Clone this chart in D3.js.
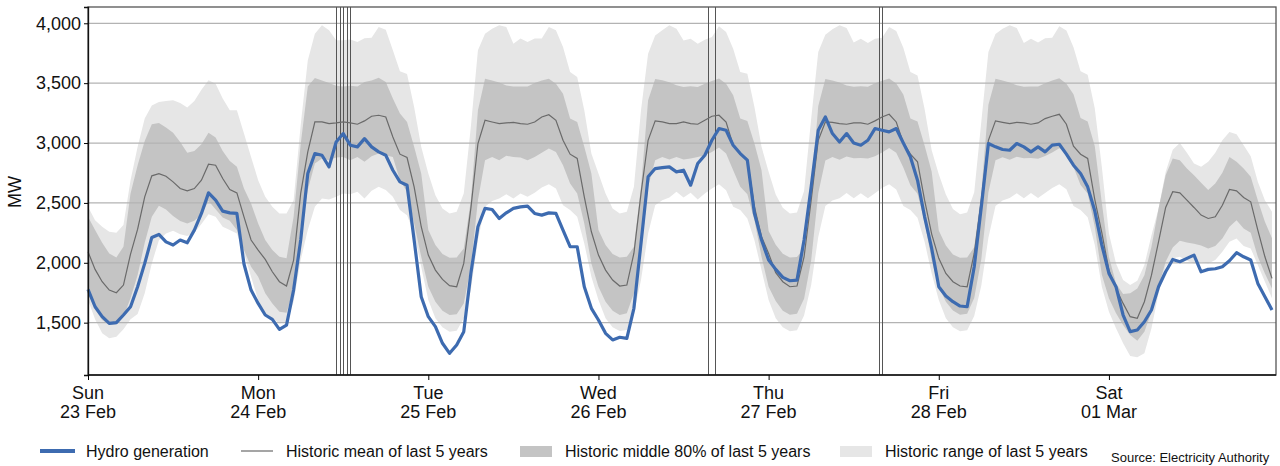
<!DOCTYPE html>
<html>
<head>
<meta charset="utf-8">
<script src="https://cdn.jsdelivr.net/npm/d3@7"></script>
<style>
  body { margin: 0; background: #fff; }
  text { font-family: "Liberation Sans", Arial, Helvetica, sans-serif; fill: #111; }
</style>
</head>
<body>
<svg id="chart" width="1280" height="466"></svg>
<script>
// hourly values, Sun 23 Feb 00:00 to Sat 01 Mar 23:00 (MW), one row per day
var hydro = [
  1778,1633,1550,1494,1500,1564,1633,1800,1995,2212,2237,2175,2148,2190,2167,2273,2412,2584,2523,2431,2417,2412,1990,1772,
  1661,1564,1528,1444,1480,1772,2190,2745,2912,2898,2801,3009,3079,2982,2968,3037,2968,2926,2898,2773,2676,2648,2190,1717,
  1550,1467,1328,1244,1314,1425,1911,2301,2454,2445,2370,2417,2454,2467,2473,2412,2398,2417,2412,2273,2134,2134,1800,1620,
  1522,1411,1356,1378,1369,1620,2162,2718,2787,2795,2801,2759,2773,2648,2829,2898,3023,3121,3107,2982,2912,2857,2412,2190,
  2023,1945,1878,1850,1856,2190,2634,3107,3218,3079,3009,3079,3001,2982,3023,3121,3107,3093,3121,3001,2884,2690,2384,2120,
  1800,1722,1675,1639,1633,1967,2467,2996,2968,2946,2940,2996,2968,2926,2968,2926,2982,2990,2907,2815,2745,2634,2434,2148,
  1911,1800,1564,1425,1439,1508,1606,1800,1925,2028,2009,2037,2064,1925,1945,1950,1967,2017,2084,2050,2023,1828,1717,1606
];
var histMean = [
  2092,1945,1842,1772,1750,1814,2073,2281,2551,2726,2745,2723,2676,2620,2601,2620,2690,2823,2815,2704,2612,2584,2384,2190,
  2106,2028,1925,1842,1806,2023,2579,2926,3176,3176,3162,3168,3176,3168,3157,3185,3224,3232,3218,3051,2907,2879,2634,2301,
  2064,1939,1861,1809,1800,1995,2454,2996,3190,3176,3162,3168,3173,3162,3157,3176,3218,3237,3190,3023,2907,2871,2551,2259,
  2064,1939,1856,1806,1814,2080,2579,3023,3185,3176,3162,3162,3176,3162,3157,3190,3224,3232,3176,2982,2907,2857,2467,2218,
  2078,1917,1842,1800,1806,2050,2520,3023,3176,3173,3162,3157,3168,3168,3157,3185,3218,3240,3176,3001,2907,2843,2523,2240,
  2037,1911,1842,1806,1800,2080,2520,3023,3185,3173,3162,3173,3168,3157,3168,3204,3224,3240,3157,2974,2907,2871,2530,2250,
  1939,1786,1661,1550,1536,1675,1897,2176,2462,2593,2584,2523,2462,2398,2370,2384,2481,2612,2601,2545,2509,2273,2050,1870
];
var histP10 = [
  1745,1611,1522,1481,1486,1550,1703,1898,2167,2384,2476,2445,2390,2348,2328,2351,2404,2517,2448,2379,2351,2273,2106,1967,
  1884,1745,1661,1592,1583,1772,2301,2607,2829,2871,2857,2879,2884,2857,2884,2843,2890,2912,2898,2884,2690,2593,2329,2050,
  1800,1675,1600,1564,1570,1661,1967,2523,2857,2884,2857,2893,2884,2879,2857,2884,2918,2954,2926,2815,2662,2579,2329,1995,
  1800,1675,1600,1564,1578,1745,2078,2634,2857,2884,2862,2884,2862,2871,2884,2898,2926,2962,2912,2773,2634,2573,2356,2050,
  1800,1680,1600,1566,1575,1700,2020,2580,2855,2884,2860,2888,2872,2875,2870,2890,2922,2958,2918,2795,2648,2576,2342,2020,
  1800,1675,1602,1566,1574,1705,2030,2590,2857,2882,2860,2886,2874,2876,2868,2892,2920,2956,2920,2800,2650,2578,2300,1900,
  1703,1578,1481,1397,1350,1425,1592,1800,2009,2128,2184,2170,2159,2145,2120,2140,2203,2301,2356,2287,2251,2050,1911,1786
];
var histP90 = [
  2384,2273,2167,2078,2045,2134,2579,2815,3018,3157,3168,3129,3085,3009,2918,2934,2990,3085,3046,2934,2851,2801,2620,2495,
  2328,2190,2106,2050,2037,2384,2990,3473,3543,3523,3501,3479,3473,3479,3473,3509,3523,3546,3509,3371,3246,3176,2968,2745,
  2273,2148,2073,2042,2045,2120,2523,3273,3537,3523,3506,3481,3473,3473,3473,3501,3523,3537,3495,3412,3204,3176,2968,2745,
  2273,2148,2073,2045,2050,2134,2634,3357,3535,3524,3507,3482,3468,3474,3468,3496,3518,3538,3496,3399,3204,3185,2996,2773,
  2265,2150,2075,2045,2048,2125,2580,3310,3535,3522,3505,3480,3470,3474,3470,3500,3520,3538,3498,3405,3204,3180,2980,2760,
  2270,2145,2070,2042,2045,2130,2590,3320,3536,3522,3506,3482,3470,3473,3472,3500,3522,3540,3495,3408,3210,3180,2975,2500,
  2050,1828,1739,1745,1786,1897,2134,2454,2732,2871,2857,2787,2732,2668,2607,2662,2751,2884,2843,2787,2718,2523,2343,2204
];
var histMin = [
  1689,1528,1411,1369,1383,1444,1528,1572,1745,1995,2189,2245,2267,2239,2223,2251,2323,2406,2384,2301,2273,2245,2078,1884,
  1689,1564,1536,1494,1508,1675,2023,2273,2468,2537,2529,2551,2579,2573,2593,2537,2601,2634,2607,2551,2440,2398,2245,1967,
  1689,1536,1461,1425,1433,1536,1772,2190,2468,2517,2537,2573,2537,2579,2551,2584,2629,2656,2620,2481,2440,2384,2162,1884,
  1689,1536,1461,1430,1439,1578,1856,2245,2481,2523,2545,2593,2545,2584,2529,2579,2620,2656,2606,2467,2440,2370,2189,1939,
  1689,1536,1461,1428,1436,1560,1815,2215,2475,2520,2540,2583,2540,2581,2540,2581,2625,2656,2612,2474,2440,2377,2175,1910,
  1689,1536,1461,1428,1436,1556,1810,2210,2475,2520,2541,2580,2540,2582,2542,2582,2624,2656,2614,2475,2440,2380,2150,1800,
  1592,1453,1328,1222,1211,1244,1453,1745,1967,2037,2050,2017,1995,2006,1995,2023,2092,2176,2203,2140,2120,1981,1842,1703
];
var histMax = [
  2467,2356,2301,2259,2251,2315,2690,2968,3204,3313,3343,3351,3357,3335,3296,3351,3446,3524,3496,3371,3274,3274,3079,2884,
  2690,2551,2468,2412,2412,2523,3150,3690,3913,3983,3941,3858,3858,3864,3844,3875,3880,3969,3947,3774,3599,3576,3301,2968,
  2745,2565,2453,2412,2426,2579,3135,3774,3913,3955,3983,3969,3830,3872,3844,3872,3872,3969,3941,3802,3593,3551,3273,2912,
  2745,2579,2454,2412,2426,2634,3274,3746,3899,3941,3983,3955,3857,3871,3830,3863,3885,3975,3927,3788,3593,3579,3301,2968,
  2760,2570,2460,2412,2420,2600,3200,3760,3905,3950,3983,3960,3840,3870,3835,3870,3880,3970,3935,3795,3593,3565,3285,2940,
  2740,2570,2450,2405,2420,2590,3180,3760,3910,3955,3983,3960,3835,3870,3840,3875,3880,3975,3940,3800,3600,3570,3290,2800,
  2245,1995,1856,1814,1850,1981,2231,2454,2759,2945,3001,2918,2829,2801,2843,2918,3023,3093,3074,2982,2890,2676,2523,2426
];
var yTicks = [1500, 2000, 2500, 3000, 3500, 4000];
// thin vertical marker lines (hours after Sun 00:00)
var markerHours = [35, 35.5, 36, 36.5, 37, 87.5, 88.5, 111.5, 111.95];

var start = new Date(Date.UTC(2025, 1, 23));
var data = hydro.map(function(v, i) {
  return {
    t: d3.utcHour.offset(start, i),
    hydro: v, mean: histMean[i],
    p10: histP10[i], p90: histP90[i],
    min: histMin[i], max: histMax[i]
  };
});

var svg = d3.select('#chart');
var plotL = 88, plotR = 1276, plotT = 7, plotB = 375;

var x = d3.scaleUtc()
  .domain([start, data[data.length - 1].t])
  .range([plotL, 1272]);
var y = d3.scaleLinear()
  .domain([1063, 4136])
  .range([plotB, plotT]);

// bands
svg.append('path')
  .datum(data)
  .attr('fill', '#e6e6e6')
  .attr('d', d3.area().x(d => x(d.t)).y0(d => y(d.min)).y1(d => y(d.max)));
svg.append('path')
  .datum(data)
  .attr('fill', '#c4c4c4')
  .attr('d', d3.area().x(d => x(d.t)).y0(d => y(d.p10)).y1(d => y(d.p90)));

// grid
svg.append('g')
  .selectAll('line')
  .data(yTicks)
  .join('line')
  .attr('x1', plotL).attr('x2', plotR)
  .attr('y1', d => y(d)).attr('y2', d => y(d))
  .attr('stroke', '#b3b3b3')
  .attr('stroke-width', 1.2);

// markers
svg.append('g')
  .selectAll('line')
  .data(markerHours)
  .join('line')
  .attr('x1', d => Math.round(x(d3.utcMinute.offset(start, d * 60))) + 0.5)
  .attr('x2', d => Math.round(x(d3.utcMinute.offset(start, d * 60))) + 0.5)
  .attr('y1', plotT).attr('y2', plotB)
  .attr('stroke', '#555')
  .attr('stroke-width', 1);

// mean + hydro
svg.append('path')
  .datum(data)
  .attr('fill', 'none')
  .attr('stroke', '#6a6a6a')
  .attr('stroke-width', 1.2)
  .attr('d', d3.line().x(d => x(d.t)).y(d => y(d.mean)));
svg.append('path')
  .datum(data)
  .attr('fill', 'none')
  .attr('stroke', '#3d6bb0')
  .attr('stroke-width', 3.2)
  .attr('stroke-linejoin', 'round')
  .attr('d', d3.line().x(d => x(d.t)).y(d => y(d.hydro)));

// frame
svg.append('rect')
  .attr('x', plotL).attr('y', plotT)
  .attr('width', plotR - plotL).attr('height', plotB - plotT)
  .attr('fill', 'none')
  .attr('stroke', '#555')
  .attr('stroke-width', 1.3);

// axes
var yAxis = svg.append('g')
  .attr('transform', 'translate(' + plotL + ',0)')
  .call(d3.axisLeft(y).tickValues(yTicks).tickFormat(d3.format(',')).tickSize(4).tickPadding(3));
yAxis.select('.domain').attr('stroke', '#111').attr('stroke-width', 1.3);
yAxis.selectAll('text').style('font-size', '18px').attr('fill', '#111');

var days = d3.utcDay.range(start, d3.utcDay.offset(start, 7));
var xAxis = svg.append('g')
  .attr('transform', 'translate(0,' + plotB + ')')
  .call(d3.axisBottom(x).tickValues(days).tickSize(5).tickFormat(''));
xAxis.select('.domain').attr('stroke', '#111').attr('stroke-width', 1.3)
  .attr('d', 'M' + plotL + ',0H' + plotR);

var dayLbl = svg.append('g');
dayLbl.selectAll('text.wd')
  .data(days)
  .join('text')
  .attr('class', 'wd')
  .attr('x', d => x(d)).attr('y', 399)
  .attr('text-anchor', 'middle')
  .style('font-size', '18px')
  .text(d3.utcFormat('%a'));
dayLbl.selectAll('text.dt')
  .data(days)
  .join('text')
  .attr('class', 'dt')
  .attr('x', d => x(d)).attr('y', 418)
  .attr('text-anchor', 'middle')
  .style('font-size', '18px')
  .text(d3.utcFormat('%d %b'));

svg.append('text')
  .attr('transform', 'translate(21,192) rotate(-90)')
  .attr('text-anchor', 'middle')
  .style('font-size', '18px')
  .text('MW');

// legend
var lg = svg.append('g');
lg.append('line').attr('x1', 40).attr('x2', 75).attr('y1', 451).attr('y2', 451)
  .attr('stroke', '#3d6bb0').attr('stroke-width', 4);
lg.append('text').attr('x', 86).attr('y', 457).style('font-size', '16px').text('Hydro generation');
lg.append('line').attr('x1', 241).attr('x2', 273).attr('y1', 451).attr('y2', 451)
  .attr('stroke', '#6a6a6a').attr('stroke-width', 1.2);
lg.append('text').attr('x', 286).attr('y', 457).style('font-size', '16px').text('Historic mean of last 5 years');
lg.append('rect').attr('x', 520).attr('y', 446).attr('width', 32).attr('height', 11).attr('fill', '#c4c4c4');
lg.append('text').attr('x', 565).attr('y', 457).style('font-size', '16px').text('Historic middle 80% of last 5 years');
lg.append('rect').attr('x', 840).attr('y', 446).attr('width', 32).attr('height', 11).attr('fill', '#e6e6e6');
lg.append('text').attr('x', 885).attr('y', 457).style('font-size', '16px').text('Historic range of last 5 years');
svg.append('text').attr('x', 1111).attr('y', 462).style('font-size', '13px').text('Source: Electricity Authority');
</script>
</body>
</html>
